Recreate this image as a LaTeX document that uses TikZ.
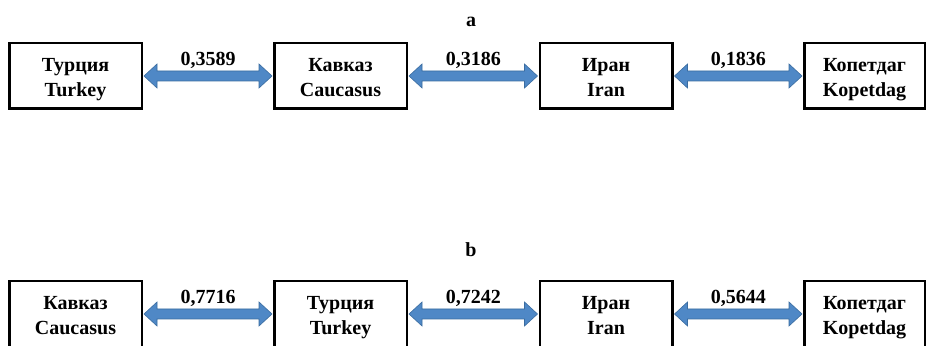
\documentclass[tikz,border=0pt]{standalone}
\usepackage{fontspec}
\setmainfont{Liberation Serif}
\usetikzlibrary{calc}
\definecolor{arrfill}{RGB}{79,136,198}
\definecolor{arrline}{RGB}{58,108,160}
\tikzset{
  box/.style={draw=black, line width=2.5pt, fill=white, minimum height=65.5pt,
    minimum width=132.5pt, align=center, inner sep=0pt,
    font=\fontsize{20}{25}\selectfont\bfseries,
    text height=46pt, text depth=5pt},
  lastbox/.style={box, minimum width=120.5pt},
  arrowsty/.style={fill=arrfill, draw=arrline, line width=0.6pt, line join=miter},
  vallab/.style={anchor=base, font=\fontsize{20}{24}\selectfont\bfseries, inner sep=0pt},
  panel/.style={anchor=base, font=\fontsize{20}{24}\selectfont\bfseries, inner sep=0pt}
}
\newcommand\dblarrow[3]{%
  \draw[arrowsty] let \p1=(#1.east), \p2=(#2.west) in
    (\x1+1pt,\y1) -- (\x1+14pt,\y1+12pt) -- (\x1+14pt,\y1+5pt) -- (\x2-14pt,\y1+5pt)
    -- (\x2-14pt,\y1+12pt) -- (\x2-1pt,\y1) -- (\x2-14pt,\y1-12pt) -- (\x2-14pt,\y1-5pt)
    -- (\x1+14pt,\y1-5pt) -- (\x1+14pt,\y1-12pt) -- cycle;
  \node[vallab] (#1#2lab) at ($(#1.east)!0.5!(#2.west)+(0,10pt)$) {#3};}
\begin{document}
\begin{tikzpicture}[x=1pt,y=1pt]
\useasboundingbox (0,0) rectangle (928,345);
\fill[white] (0,0) rectangle (928,345);
\clip (0,0) rectangle (928,345);
% panel a
\node[panel] (pa) at (471,318) {a};
\node[box] (a1) at (75.5,269) {Турция\\Turkey};
\node[box] (a2) at (340.5,269) {Кавказ\\Caucasus};
\node[box] (a3) at (606,269) {Иран\\Iran};
\node[lastbox] (a4) at (864.5,269) {Копетдаг\\Kopetdag};
\dblarrow{a1}{a2}{0,3589}
\dblarrow{a2}{a3}{0,3186}
\dblarrow{a3}{a4}{0,1836}
% panel b
\node[panel] (pb) at (471,88) {b};
\node[box] (b1) at (75.5,31) {Кавказ\\Caucasus};
\node[box] (b2) at (340.5,31) {Турция\\Turkey};
\node[box] (b3) at (606,31) {Иран\\Iran};
\node[lastbox] (b4) at (864.5,31) {Копетдаг\\Kopetdag};
\dblarrow{b1}{b2}{0,7716}
\dblarrow{b2}{b3}{0,7242}
\dblarrow{b3}{b4}{0,5644}
\end{tikzpicture}
\end{document}
